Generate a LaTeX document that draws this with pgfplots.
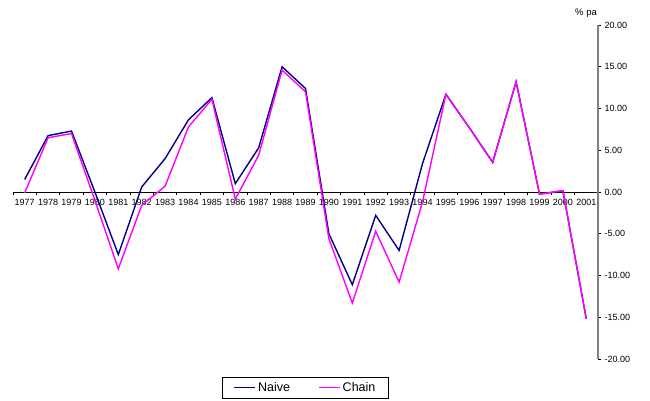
\documentclass[border=0pt]{standalone}
\usepackage{fontspec}
\setmainfont{Liberation Sans}
\usepackage{pgfplots}
\pgfplotsset{compat=1.18}

\definecolor{naive}{HTML}{000080}
\definecolor{chain}{HTML}{FF00FF}
\definecolor{yaxis}{HTML}{808080}

\begin{document}
\begin{tikzpicture}
  \begin{axis}[
    scale only axis,
    width=585bp, height=334bp,
    xmin=-0.5, xmax=24.5,
    ymin=-20, ymax=20,
    axis x line=middle,
    axis y line=right,
    x axis line style={-, black, line width=0.8bp},
    y axis line style={-, yaxis, line width=1.6bp},
    hide obscured x ticks=false,
    hide obscured y ticks=false,
    xtick={0,...,24},
    xticklabels={1977,1978,1979,1980,1981,1982,1983,1984,1985,1986,1987,1988,1989,
                 1990,1991,1992,1993,1994,1995,1996,1997,1998,1999,2000,2001},
    major x tick style={draw=none},
    minor xtick={-0.5,0.5,...,24.5},
    minor x tick style={black, line width=0.8bp},
    minor tick length=3bp,
    ytick={-20,-15,...,20},
    major tick length=3bp,
    y tick style={black, line width=0.8bp},
    tick align=outside,
    tick label style={font=\fontsize{9bp}{10bp}\selectfont},
    x tick label style={yshift=-1bp},
    yticklabel style={/pgf/number format/.cd, fixed, fixed zerofill, precision=2,
                      assume math mode=true},
    legend columns=2,
    legend style={at={(axis description cs:0.5,0)}, anchor=north, yshift=-18bp,
                  draw=black,
                  font=\fontsize{12.5bp}{14bp}\selectfont,
                  inner xsep=11bp, inner ysep=3bp,
                  /tikz/every even column/.append style={column sep=26bp}},
    legend image code/.code={\draw[#1, line width=1.6bp] (0bp,0bp) -- (21bp,0bp);},
    clip=false,
  ]
    \addplot[naive, line width=1.4bp] coordinates {
      (0,1.5) (1,6.75) (2,7.3) (3,0.0) (4,-7.5) (5,0.6) (6,4.0) (7,8.65)
      (8,11.3) (9,1.0) (10,5.3) (11,15.0) (12,12.4) (13,-5.0) (14,-11.1)
      (15,-2.8) (16,-7.0) (17,3.4) (18,11.7) (19,7.7) (20,3.55) (21,13.2)
      (22,-0.25) (23,0.15) (24,-15.2)};
    \addplot[chain, line width=1.4bp] coordinates {
      (0,-0.1) (1,6.5) (2,7.0) (3,-1.0) (4,-9.2) (5,-1.6) (6,0.7) (7,7.8)
      (8,11.1) (9,-0.85) (10,4.4) (11,14.6) (12,12.0) (13,-5.6) (14,-13.3)
      (15,-4.7) (16,-10.8) (17,-1.2) (18,11.7) (19,7.7) (20,3.55) (21,13.2)
      (22,-0.25) (23,0.15) (24,-15.2)};
    \legend{Naive, Chain}
    \node[font=\fontsize{9.5bp}{11bp}\selectfont] at ([xshift=-12bp, yshift=12bp]rel axis cs:1,1) {\% pa};
  \end{axis}
  \path (-13bp,-42bp) rectangle (637bp,359bp);
\end{tikzpicture}
\end{document}
